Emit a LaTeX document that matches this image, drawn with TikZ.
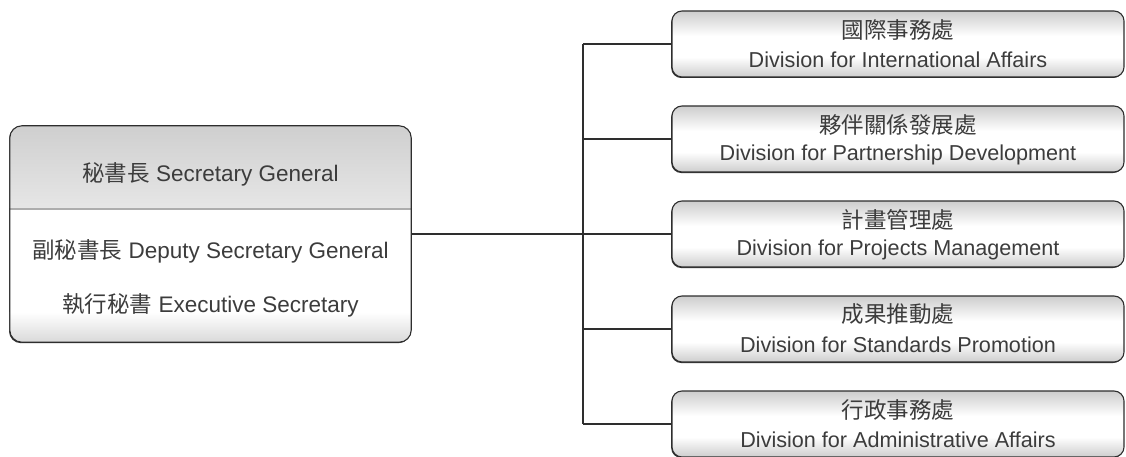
\documentclass[tikz,border=0pt]{standalone}
\usepackage{fontspec}
\setmainfont{Liberation Sans}
\newfontfamily\cjk{Noto Sans CJK TC}
\usetikzlibrary{shadows}

\definecolor{ink}{HTML}{3C3C3C}
\definecolor{edge}{HTML}{2E2E2E}
\definecolor{boxgray}{HTML}{CDCDCD}
\definecolor{hdtop}{HTML}{CFCFCF}
\definecolor{hdbot}{HTML}{E6E6E6}
\definecolor{rulegray}{HTML}{ADADAD}
\definecolor{ftgray}{HTML}{D9D9D9}

% grey at top and bottom, white band through the middle
\pgfdeclareverticalshading{divshade}{100bp}{color(0bp)=(boxgray); color(25bp)=(boxgray); color(40bp)=(white); color(56bp)=(white); color(75bp)=(boxgray); color(100bp)=(boxgray)}

\begin{document}
\begin{tikzpicture}[x=1pt,y=1pt,
  conn/.style={draw=edge, line width=1.3pt},
  divbox/.style={shade, shading=divshade, rounded corners=10pt, draw=edge, line width=1.1pt,
    minimum width=452pt, minimum height=66pt, inner sep=0pt,
    general shadow={fill=edge, shadow xshift=-0.8pt, shadow yshift=-1pt}},
  zhname/.style={font=\cjk\fontsize{22.5}{26}\selectfont, text=ink, inner sep=0pt},
  enname/.style={font=\fontsize{21.6}{26}\selectfont, text=ink, inner sep=0pt},
  lbl/.style={font=\fontsize{22.5}{27}\selectfont, text=ink}]

\useasboundingbox (0,0) rectangle (1126,456);

% Secretary General box
\node[minimum width=401pt, minimum height=216pt, inner sep=0pt] (sg) at (210.5,222) {};
\fill[edge, rounded corners=12pt] ([shift={(-0.8,-1)}]sg.south west) rectangle ([shift={(-0.8,-1)}]sg.north east);
\fill[white, rounded corners=12pt] (sg.south west) rectangle (sg.north east);
\begin{scope}
  \clip[rounded corners=12pt] (sg.south west) rectangle (sg.north east);
  \shade[top color=hdtop, bottom color=hdbot] ([yshift=-82pt]sg.north west) rectangle (sg.north east);
  \shade[top color=white, bottom color=ftgray] (sg.south west) rectangle ([yshift=30pt]sg.south east);
\end{scope}
\draw[rulegray, line width=2pt] ([yshift=-83pt]sg.north west) -- ([yshift=-83pt]sg.north east);
\draw[edge, line width=1.1pt, rounded corners=12pt] (sg.south west) rectangle (sg.north east);

\node[lbl] (sgt) at (210.5,282) {{\cjk 秘書長} Secretary General};
\node[lbl] (dsg) at (210.5,205) {{\cjk 副秘書長} Deputy Secretary General};
\node[lbl] (exs) at (210.5,151) {{\cjk 執行秘書} Executive Secretary};

% Divisions: box, Chinese name above, English name below
\foreach \k/\y/\zh/\en in {
  1/412/國際事務處/Division for International Affairs,
  2/317/夥伴關係發展處/Division for Partnership Development,
  3/222/計畫管理處/Division for Projects Management,
  4/127/成果推動處/Division for Standards Promotion,
  5/32/行政事務處/Division for Administrative Affairs}{
  \node[divbox] (d\k) at (898,\y) {};
  \node[zhname] (d\k zh) at ([yshift=14.5pt]d\k.center) {\zh};
  \node[enname] (d\k en) at ([yshift=-15.5pt]d\k.center) {\en};
}

% Connectors
\coordinate (j) at (583,222);
\draw[conn] (sg.east) -- (j);
\draw[conn] (d1.west -| j) -- (d5.west -| j);
\foreach \k in {1,...,5} \draw[conn] (d\k.west) -- (d\k.west -| j);
\end{tikzpicture}
\end{document}
